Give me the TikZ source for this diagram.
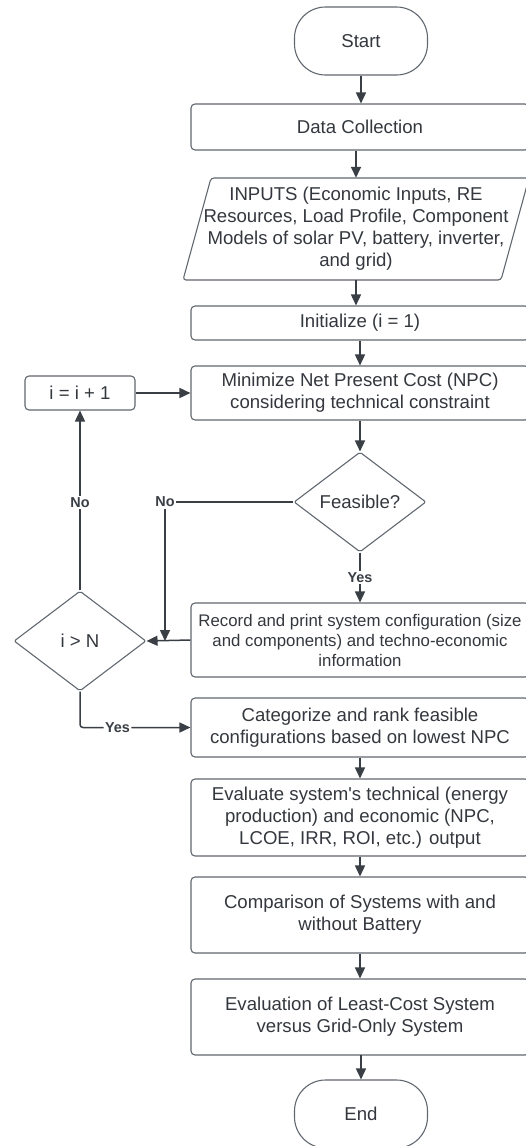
\documentclass[tikz,border=0pt]{standalone}
\usepackage{fontspec}
\setmainfont{Liberation Sans}
\usetikzlibrary{arrows.meta,shapes.geometric,calc}
\definecolor{bord}{RGB}{98,104,112}
\definecolor{ln}{RGB}{58,63,70}
\definecolor{txt}{RGB}{52,56,62}
\newcommand\fmain{\fontsize{18.6}{22}\selectfont}
\newcommand\fsmallx{\fontsize{16.8}{20}\selectfont}
\newcommand\flab{\fontsize{14.4}{16}\selectfont\bfseries}
\begin{document}
\begin{tikzpicture}[x=1pt,y=-1pt,
  box/.style={draw=bord, line width=1.1pt, rounded corners=4pt, fill=white, text=txt,
    align=center, font=\fmain, minimum width=338pt, inner sep=0pt},
  term/.style={draw=bord, line width=1.1pt, rounded corners=31pt, fill=white, text=txt,
    font=\fmain, minimum width=133pt, minimum height=68pt, inner sep=0pt},
  dec/.style={diamond, draw=bord, line width=1.1pt, fill=white, text=txt, font=\fmain,
    inner sep=0pt, minimum width=132pt, minimum height=100pt, aspect=1.32, rounded corners=2pt},
  conn/.style={draw=ln, line width=1.5pt, -{Triangle[length=11pt,width=10pt]}},
  lab/.style={text=ln, font=\flab, fill=white, inner sep=1.5pt}]
\clip (0,0) rectangle (526,1146);
\fill[white] (0,0) rectangle (526,1146);

\node[term] (start) at (361,41) {Start};
\node[box, minimum height=46pt] (data) at (360,127) {Data Collection};
\draw[draw=bord, line width=1.1pt, rounded corners=3pt, fill=white]
  (211,178) -- (529,178) -- (501,280) -- (183,280) -- cycle;
\node[text=txt, align=center, font=\fmain, inner sep=0pt, minimum height=102pt] (inputs) at (356,229)
  {INPUTS (Economic Inputs, RE\\Resources, Load Profile, Component\\Models of solar PV, battery, inverter,\\and grid)};
\node[box, minimum height=34pt] (init) at (360,323) {Initialize (i = 1)};
\node[box, minimum height=54pt] (min) at (360,393) {Minimize Net Present Cost (NPC)\\considering technical constraint};
\node[box, minimum width=110pt, minimum height=34pt] (inc) at (80,393) {i = i + 1};
\node[dec] (feas) at (360,502) {Feasible?};
\node[box, minimum height=74pt, font=\fsmallx] (rec) at (360,640)
  {Record and print system configuration (size\\and components) and techno-economic\\information};
\node[dec] (chk) at (80,641) {i > N};
\node[box, minimum height=59pt] (cat) at (360,727.5)
  {Categorize and rank feasible\\configurations based on lowest NPC};
\node[box, minimum height=77pt] (eval) at (360,817.5)
  {Evaluate system\textquotesingle s technical (energy\\production) and economic (NPC,\\LCOE, IRR, ROI, etc.) output};
\node[box, minimum height=76pt] (comp) at (360,915)
  {Comparison of Systems with and\\without Battery};
\node[box, minimum height=76pt] (least) at (360,1017)
  {Evaluation of Least-Cost System\\versus Grid-Only System};
\node[term] (end) at (361,1114) {End};

\coordinate (j) at (165,641);

\draw[conn] (start.south) -- (start.south |- data.north);
\draw[conn] (data.south -| inputs) -- (inputs.north);
\draw[conn] (inputs.south) -- (inputs.south |- init.north);
\draw[conn] (init) -- (min);
\draw[conn] (min) -- (feas);
\draw[conn] (feas) -- node[lab]{Yes} (rec);
\draw[conn] (feas.west) -| node[lab, pos=0.5]{No} (j);
\draw[conn] (rec.west) -- (chk.east);
\draw[conn] (chk.north) -- node[lab, pos=0.49]{No} (inc.south);
\draw[conn] (inc.east) -- (min.west);
\draw[conn, rounded corners=3pt] (chk.south) |- node[lab, pos=0.67]{Yes} (cat.west);
\draw[conn] (cat) -- (eval);
\draw[conn] (eval) -- (comp);
\draw[conn] (comp) -- (least);
\draw[conn] (least.south) -- (least.south -| end) -- (end.north);
\end{tikzpicture}
\end{document}
